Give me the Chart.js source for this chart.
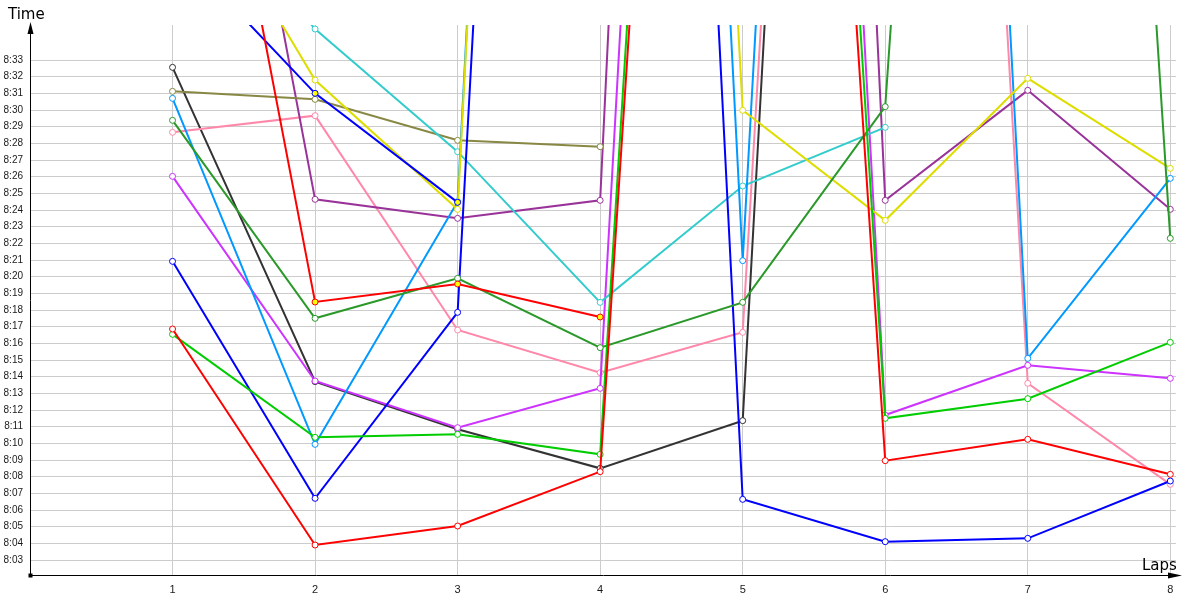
<!DOCTYPE html>
<html>
<head>
<meta charset="utf-8">
<script src="https://cdn.jsdelivr.net/npm/chart.js@4"></script>
<style>
  html, body { margin: 0; padding: 0; background: #fff; }
</style>
</head>
<body>
<canvas id="lapChart" width="1200" height="600"></canvas>
<script>
// lap numbers on the x axis
const laps = [1, 2, 3, 4, 5, 6, 7, 8];

// lap times in seconds (8:00 = 480); values above the top are pit laps
const red1      = [496.86, 483.9, 485.04, 488.3, 618.6, 488.96, 490.24, 488.14];
const red2      = [543.1, 498.48, 499.56, 497.58];
const green     = [496.54, 490.36, 490.54, 489.34, 625.5, 491.5, 492.68, 496.06];
const darkGreen = [509.38, 497.5, 499.9, 495.74, 498.46, 510.2, 633.6, 502.3];
const blue1     = [500.92, 486.7, 497.86, 654.6, 486.64, 484.1, 484.3, 487.74];
const blue2     = [520.0, 511.0, 504.46];
const lightBlue = [510.7, 489.94, 504.5, 666.6, 500.96, 654.6, 495.1, 505.9];
const cyan      = [525.0, 514.86, 507.5, 498.46, 505.44, 508.96];
const yellow    = [526.1, 511.8, 504.04, 666.6, 509.98, 503.38, 511.9, 506.5];
const olive     = [511.12, 510.64, 508.18, 507.8];
const purple    = [549.9, 504.64, 503.5, 504.58, 681.6, 504.58, 511.18, 504.04];
const violet    = [506.02, 493.74, 490.94, 493.3, 645.6, 491.7, 494.68, 493.9];
const pink      = [508.66, 509.66, 496.8, 494.24, 496.66, 640.5, 493.6, 487.54];
const darkGray  = [512.56, 493.7, 490.84, 488.5, 491.36, 645.8];

// y tick labels 8:03 .. 8:33
const yTickValues = [];
for (let s = 483; s <= 513; s++) yTickValues.push(s);

function fmtTime(v) {
    const m = Math.floor(v / 60);
    const s = Math.round(v - m * 60);
    return m + ':' + (s < 10 ? '0' : '') + s;
}

function series(values, color, fill) {
    return {
        data: values.map((v, i) => ({ x: laps[i], y: v })),
        borderColor: color,
        backgroundColor: color,
        borderWidth: 2,
        pointRadius: 3,
        pointBorderWidth: 1,
        pointBorderColor: color,
        pointBackgroundColor: fill || '#ffffff',
        tension: 0
    };
}

// first dataset ends up on top
const datasets = [
    series(red1, '#ff0000'),
    series(red2, '#ff0000', '#ffff00'),
    series(green, '#00cc00'),
    series(darkGreen, '#2a992a'),
    series(blue1, '#0000ff'),
    series(blue2, '#0000ff', '#ffff00'),
    series(yellow, '#dddd00'),
    series(lightBlue, '#0099ff'),
    series(cyan, '#33cccc'),
    series(olive, '#888844'),
    series(purple, '#993399'),
    series(violet, '#cc33ff'),
    series(pink, '#ff88aa'),
    series(darkGray, '#333333')
];

// arrows, origin mark and axis names
const axisDecor = {
    id: 'axisDecor',
    afterDraw(chart) {
        const ctx = chart.ctx;
        const a = chart.chartArea;
        ctx.save();
        ctx.fillStyle = '#000';
        ctx.strokeStyle = '#000';
        ctx.lineWidth = 1;
        // x axis runs a bit past the plot
        ctx.beginPath();
        ctx.moveTo(a.right, Math.round(a.bottom) + 0.5);
        ctx.lineTo(1178, Math.round(a.bottom) + 0.5);
        ctx.stroke();
        // y arrow
        const lx = Math.round(a.left) + 0.5;
        ctx.beginPath();
        ctx.moveTo(lx, a.top - 3);
        ctx.lineTo(lx - 3, a.top + 9);
        ctx.lineTo(lx + 3, a.top + 9);
        ctx.closePath();
        ctx.fill();
        // x arrow
        const by = Math.round(a.bottom) + 0.5;
        ctx.beginPath();
        ctx.moveTo(1182, by);
        ctx.lineTo(1168, by - 3);
        ctx.lineTo(1168, by + 3);
        ctx.closePath();
        ctx.fill();
        // origin square
        ctx.fillRect(lx - 2, by - 2, 4, 4);
        // titles
        ctx.font = '15px "DejaVu Sans", sans-serif';
        ctx.textBaseline = 'alphabetic';
        ctx.textAlign = 'left';
        ctx.fillText('Time', 8, 19);
        ctx.fillText('Laps', 1142, 570);
        ctx.restore();
    }
};

const ctx = document.getElementById('lapChart').getContext('2d');
const lapChart = new Chart(ctx, {
    type: 'line',
    data: { datasets: datasets },
    options: {
        responsive: false,
        animation: false,
        layout: { padding: { top: 25, right: 24, left: 0, bottom: 0 } },
        plugins: { legend: { display: false }, tooltip: { enabled: false } },
        scales: {
            x: {
                type: 'linear',
                min: 0,
                max: 8.04,
                afterBuildTicks: (scale) => { scale.ticks = laps.map(v => ({ value: v })); },
                afterFit: (scale) => { scale.height = 25; },
                ticks: {
                    autoSkip: false,
                    maxRotation: 0,
                    padding: 8,
                    color: '#1a1a1a',
                    font: { family: 'Liberation Sans', size: 11 },
                    callback: (v) => String(v)
                },
                grid: { color: '#cccccc', drawTicks: false },
                border: { color: '#000000', width: 1 }
            },
            y: {
                type: 'linear',
                min: 482.1,
                max: 515.1,
                afterBuildTicks: (scale) => { scale.ticks = yTickValues.map(v => ({ value: v })); },
                afterFit: (scale) => { scale.width = 30; },
                ticks: {
                    autoSkip: false,
                    padding: 7,
                    color: '#1a1a1a',
                    font: { family: 'Liberation Sans', size: 10 },
                    callback: (v) => fmtTime(v)
                },
                grid: { color: '#cccccc', drawTicks: false },
                border: { color: '#000000', width: 1 }
            }
        }
    },
    plugins: [axisDecor]
});
</script>
</body>
</html>
